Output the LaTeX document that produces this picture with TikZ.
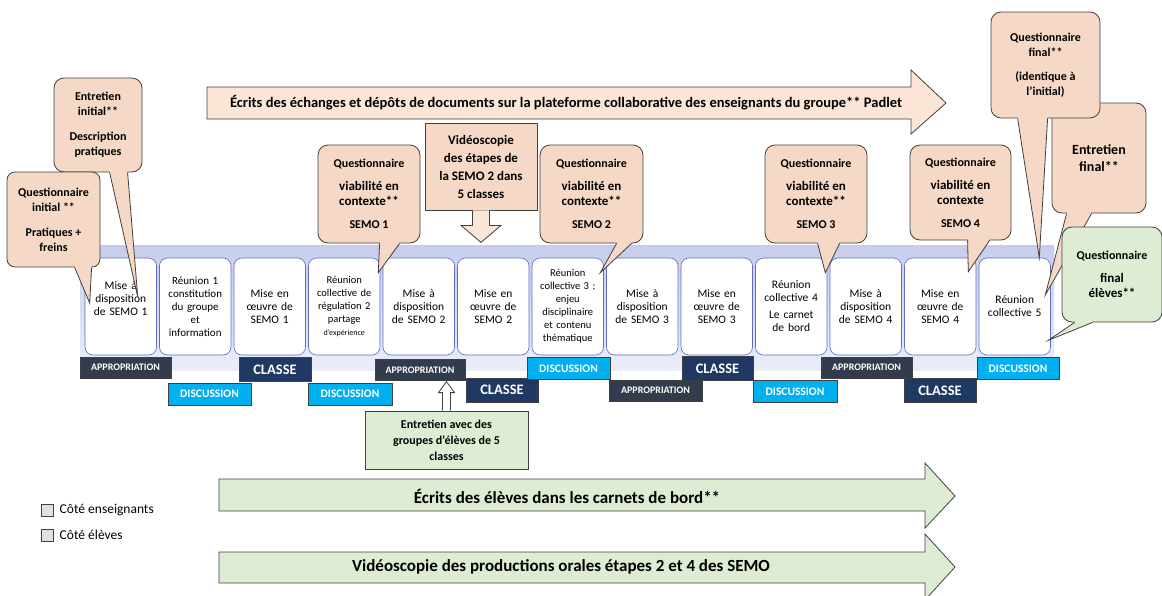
\documentclass[tikz,border=0pt]{standalone}
\usepackage{fontspec}
\setmainfont{Carlito}
\usetikzlibrary{calc,positioning}

\definecolor{peach}{RGB}{246,216,198}
\definecolor{peachlight}{RGB}{250,229,215}
\definecolor{greenlight}{RGB}{222,236,212}
\definecolor{bandblue}{RGB}{198,205,236}
\definecolor{boxline}{RGB}{95,105,200}
\definecolor{approfill}{RGB}{50,60,76}
\definecolor{classefill}{RGB}{31,56,100}
\definecolor{discfill}{RGB}{0,176,240}
\definecolor{darkline}{RGB}{64,64,64}

\tikzset{
  etape/.style={draw=boxline, fill=white, rounded corners=8pt, line width=0.6pt,
    minimum width=71.5pt, minimum height=97pt, text width=69pt, inner sep=1pt, align=center},
  bulle/.style={draw=darkline, fill=peach, rounded corners=10pt, line width=0.8pt,
    inner sep=1pt, align=center, font=\fontsize{12}{15}\selectfont\bfseries},
  tag/.style={draw=black!75, text=white, inner sep=0pt, line width=0.6pt},
  appro/.style={tag, fill=approfill, minimum height=21pt, font=\fontsize{10}{12}\selectfont\bfseries},
  disc/.style={tag, fill=discfill, minimum height=22pt, font=\fontsize{11.5}{13}\selectfont\bfseries},
  classe/.style={tag, fill=classefill, minimum height=24pt, font=\fontsize{14.5}{16}\selectfont\bfseries},
  fleche/.style={draw=darkline, line width=0.8pt},
}

\newcommand{\grand}{\fontsize{13}{17}\selectfont}
\newcommand{\mini}{\fontsize{8}{10}\selectfont}

% pointe de bulle : couleur, base gauche, base droite, bout
\newcommand{\pointe}[4]{%
  \fill[#1] ($#2+(0,-2)$) -- #2 -- #4 -- #3 -- ($#3+(0,-2)$) -- cycle;
  \draw[darkline, line width=0.8pt] #2 -- #4 -- #3;
}

\begin{document}
\begin{tikzpicture}[x=1pt, y=-1pt]
\useasboundingbox (0,0) rectangle (1162,595);

% bande de fond
\shade[top color=bandblue, bottom color=bandblue!35] (80,245) rectangle (1054,370);

% fleche du haut
\filldraw[fleche, fill=peachlight] (207,87) -- (911,87) -- (911,70) -- (946,103) -- (911,134) -- (911,119) -- (207,119) -- cycle;
\node[font=\fontsize{14.5}{16}\selectfont\bfseries] (padlet) at (566,103)
  {Écrits des échanges et dépôts de documents sur la plateforme collaborative des enseignants du groupe** Padlet};

% etapes
\foreach \i/\taille/\txt in {
  1/11.5/{Mise à\\disposition\\de SEMO 1\\[3pt]\mbox{}},
  2/11/{Réunion 1\\constitution\\du groupe\\et\\information},
  3/11.5/{Mise en\\œuvre de\\SEMO 1},
  4/10.5/{Réunion\\collective de\\régulation 2\\partage\\\mini d'expérience},
  5/11.5/{Mise à\\disposition\\de SEMO 2},
  6/11.5/{Mise en\\œuvre de\\SEMO 2},
  7/10.5/{Réunion\\collective 3 ;\\enjeu\\disciplinaire\\et contenu\\thématique},
  8/11.5/{Mise à\\disposition\\de SEMO 3},
  9/11.5/{Mise en\\œuvre de\\SEMO 3},
  10/11.5/{Réunion\\collective 4\\[4pt]Le carnet\\de bord},
  11/11.5/{Mise à\\disposition\\de SEMO 4},
  12/11.5/{Mise en\\œuvre de\\SEMO 4},
  13/11.5/{Réunion\\collective 5}}
  \node[etape, font=\fontsize{\taille}{13}\selectfont] (b\i) at ({120.75+(\i-1)*74.5},306.5) {\txt};

% etiquettes
\node[appro, minimum width=91pt] (t1) at (125.5,367.5) {APPROPRIATION};
\node[disc, minimum width=83pt] (t2) at (209.5,394) {DISCUSSION};
\node[classe, minimum width=72pt] (t3) at (275,369.5) {CLASSE};
\node[disc, minimum width=84pt] (t4) at (350,394) {DISCUSSION};
\node[appro, minimum width=90pt] (t5) at (420,370) {APPROPRIATION};
\node[classe, minimum width=72pt] (t6) at (502,390) {CLASSE};
\node[disc, minimum width=83pt] (t7) at (568.5,368.5) {DISCUSSION};
\node[appro, minimum width=93pt] (t8) at (655.5,390.5) {APPROPRIATION};
\node[classe, minimum width=71pt] (t9) at (717.5,368.5) {CLASSE};
\node[disc, minimum width=84pt] (t10) at (795,391.5) {DISCUSSION};
\node[appro, minimum width=91pt] (t11) at (866.5,367.5) {APPROPRIATION};
\node[classe, minimum width=72pt] (t12) at (940,390.5) {CLASSE};
\node[disc, minimum width=82pt] (t13) at (1018,368.5) {DISCUSSION};

% videoscopie SEMO 2
\node[draw=darkline, fill=peach, line width=0.8pt, minimum width=112pt, minimum height=87pt,
  align=center, font=\fontsize{13}{18}\selectfont\bfseries] (video) at (481,166.5)
  {Vidéoscopie\\des étapes de\\la SEMO 2 dans\\5 classes};
\filldraw[fleche, fill=peachlight] ($(video.south)+(-8.5,0)$) -- ++(0,15) -- ++(-11.5,0)
  -- ($(video.south)+(0,32)$) -- ($(video.south)+(20,15)$) -- ++(-11.5,0) -- ++(0,-15);

% entretien eleves
\node[draw=darkline, fill=greenlight, line width=0.8pt, minimum width=163pt, minimum height=58pt,
  align=center, font=\fontsize{12}{16}\selectfont\bfseries] (groupes) at (446.5,440)
  {Entretien avec des\\groupes d’élèves de 5\\classes};
\filldraw[fleche, fill=white] ($(groupes.north)+(-4,0)$) -- ++(0,-18) -- ++(-4,0)
  -- ($(groupes.north)+(0,-29)$) -- ($(groupes.north)+(8,-18)$) -- ++(-4,0) -- ++(0,18);

% bulles enseignants
\node[bulle, minimum width=88pt, minimum height=94pt] (entI) at (98,125)
  {Entretien\\initial**\\[10pt]Description\\pratiques};
\coordinate (entIa) at ($(entI.south west)+(56,0)$);
\coordinate (entIb) at ($(entI.south west)+(74,0)$);
\pointe{peach}{(entIa)}{(entIb)}{($(b1.center)+(17,-9.5)$)}

\node[bulle, rounded corners=8pt, minimum width=93pt, minimum height=95pt] (qI) at (53.5,219.5)
  {Questionnaire\\initial **\\[10pt]Pratiques +\\freins};
\coordinate (qIa) at ($(qI.south west)+(68,0)$);
\coordinate (qIb) at ($(qI.south west)+(85,0)$);
\pointe{peach}{(qIa)}{(qIb)}{($(b1.west)+(5,-3.5)$)}

\node[bulle, minimum width=102pt, minimum height=98pt] (q1) at (369,194)
  {Questionnaire\\[8pt]\grand viabilité en\\\grand contexte**\\[8pt]SEMO 1};
\coordinate (q1a) at ($(q1.south west)+(62,0)$);
\coordinate (q1b) at ($(q1.south west)+(82,0)$);
\pointe{peach}{(q1a)}{(q1b)}{($(b4.north east)+(-2,15)$)}

\node[bulle, minimum width=103pt, minimum height=98pt] (q2) at (591.5,194)
  {Questionnaire\\[8pt]\grand viabilité en\\\grand contexte**\\[8pt]SEMO 2};
\coordinate (q2a) at ($(q2.south west)+(77,0)$);
\coordinate (q2b) at ($(q2.south west)+(92,0)$);
\pointe{peach}{(q2a)}{(q2b)}{($(b7.north east)+(-3.5,15)$)}

\node[bulle, minimum width=102pt, minimum height=98pt] (q3) at (816,194)
  {Questionnaire\\[8pt]\grand viabilité en\\\grand contexte**\\[8pt]SEMO 3};
\coordinate (q3a) at ($(q3.south west)+(53,0)$);
\coordinate (q3b) at ($(q3.south west)+(75,0)$);
\pointe{peach}{(q3a)}{(q3b)}{($(b10.north east)+(-2,15)$)}

\node[bulle, minimum width=101pt, minimum height=95pt] (q4) at (960.5,192.5)
  {Questionnaire\\[8pt]\grand viabilité en\\\grand contexte\\[8pt]SEMO 4};
\coordinate (q4a) at ($(q4.south west)+(58,0)$);
\coordinate (q4b) at ($(q4.south west)+(80,0)$);
\pointe{peach}{(q4a)}{(q4b)}{($(b12.north east)+(-8,14)$)}

\node[bulle, minimum width=94pt, minimum height=110pt, font=\fontsize{14}{17}\selectfont\bfseries] (entF) at (1099,158)
  {Entretien\\final**};
\coordinate (entFa) at ($(entF.south west)+(15,0)$);
\coordinate (entFb) at ($(entF.south west)+(40,0)$);
\pointe{peach}{(entFa)}{(entFb)}{($(b13.east)+(-5.5,-11.5)$)}

\node[bulle, minimum width=109pt, minimum height=106pt] (qF) at (1045.5,65)
  {Questionnaire\\final**\\[9pt](identique à\\l’initial)};
\coordinate (qFa) at ($(qF.south west)+(27,0)$);
\coordinate (qFb) at ($(qF.south west)+(57,0)$);
\pointe{peach}{(qFa)}{(qFb)}{($(b13.north east)+(-11.5,0)$)}

% bulle eleves
\node[bulle, fill=greenlight, minimum width=100pt, minimum height=95pt] (qE) at (1112,274.5)
  {Questionnaire\\[8pt]\grand final\\\grand élèves**};
\coordinate (qEa) at ($(qE.south west)+(13,0)$);
\coordinate (qEb) at ($(qE.south west)+(31,0)$);
\pointe{greenlight}{(qEa)}{(qEb)}{($(b13.south east)+(-2.5,-15)$)}

% fleches du bas
\filldraw[fleche, fill=greenlight] (219,479) -- (925,479) -- (925,463) -- (955,496) -- (925,528) -- (925,511) -- (219,511) -- cycle;
\node[font=\fontsize{17}{19}\selectfont\bfseries] (carnets) at (567,496)
  {Écrits des élèves dans les carnets de bord**};
\filldraw[fleche, fill=greenlight] (219,552) -- (925,552) -- (925,534) -- (955,567) -- (925,600) -- (925,583) -- (219,583) -- cycle;
\node[font=\fontsize{17}{19}\selectfont\bfseries] (orales) at (561,567)
  {Vidéoscopie des productions orales étapes 2 et 4 des SEMO};

% legende
\node[draw=darkline, fill=black!12, minimum size=12pt, inner sep=0pt] (lgE) at (47,510) {};
\node[right=3pt of lgE, font=\fontsize{13.5}{15}\selectfont] (lgEt) {Côté enseignants};
\node[draw=darkline, fill=black!12, minimum size=12pt, inner sep=0pt] (lgL) at (47,535) {};
\node[right=3pt of lgL, font=\fontsize{13.5}{15}\selectfont] (lgLt) {Côté élèves};
\end{tikzpicture}
\end{document}
